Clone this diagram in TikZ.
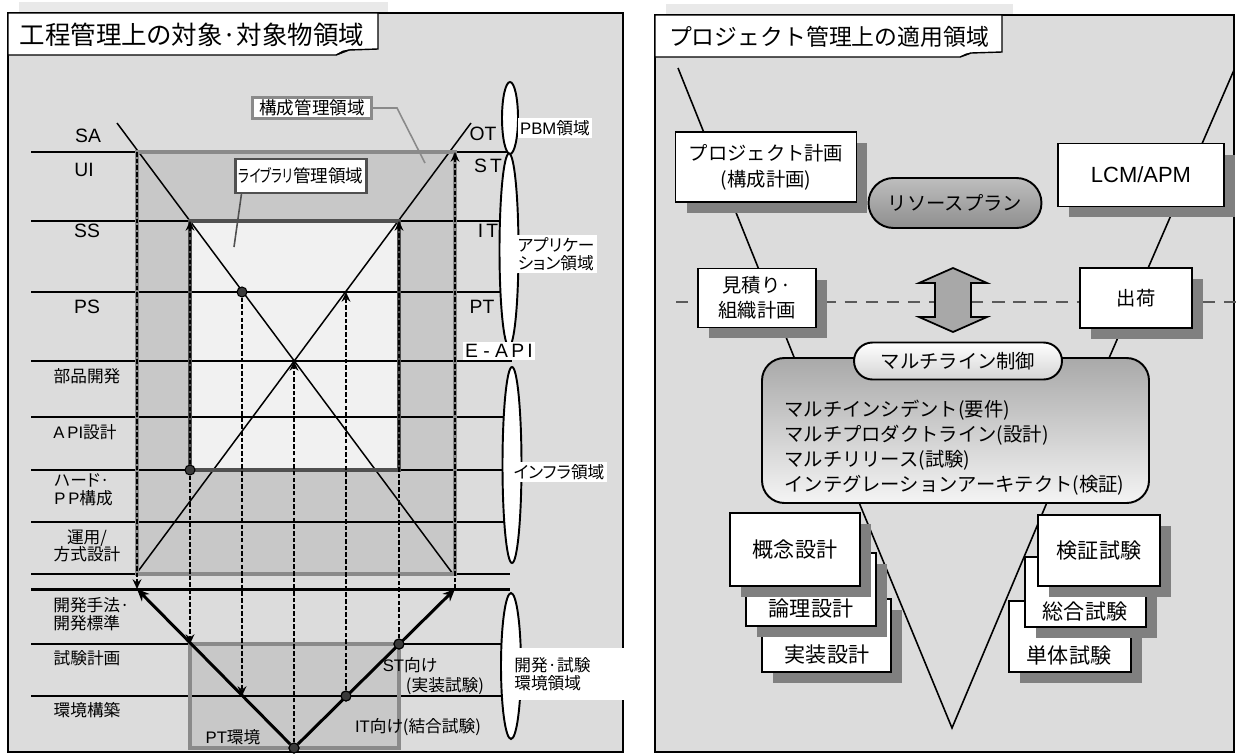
\documentclass[tikz,border=0pt]{standalone}
\usepackage{fontspec}
\usepackage{graphicx}
\setmainfont{Noto Sans CJK JP}
\newfontfamily\jpp{Noto Sans CJK JP}[RawFeature=+palt]
\newfontfamily\lat{Liberation Sans}
\usetikzlibrary{arrows.meta,shadows,calc,shapes.geometric}
\definecolor{panelbg}{HTML}{DCDCDC}
\definecolor{stripc}{HTML}{E9E9E9}
\definecolor{cfgfill}{HTML}{C8C8C8}
\definecolor{libfill}{HTML}{F1F1F1}
\definecolor{cfgedge}{HTML}{8A8A8A}
\definecolor{libedge}{HTML}{505050}
\definecolor{shadowc}{HTML}{808080}
\definecolor{dotc}{HTML}{3A3A3A}
\definecolor{dashc}{HTML}{5A5A5A}
\definecolor{rptop}{HTML}{BEBEBE}
\definecolor{rpbot}{HTML}{8E8E8E}
\definecolor{bigtop}{HTML}{A9A9A9}
\definecolor{bigbot}{HTML}{F4F4F4}
\definecolor{mlbot}{HTML}{D4D4D4}
\definecolor{arrfill}{HTML}{A8A8A8}
\begin{document}
\begin{tikzpicture}[x=0.02cm,y=-0.02cm,
  lfont/.style={font=\jpp\fontsize{9.5}{10}\selectfont},
  latf/.style={font=\lat\fontsize{11}{12}\selectfont},
  rfont/.style={font=\fontsize{11}{15}\selectfont},
  sfont/.style={font=\fontsize{12}{14}\selectfont},
  thinl/.style={line width=0.85pt},
  thickl/.style={line width=1.7pt},
  dasharr/.style={line width=1.3pt, dash pattern=on 2.6pt off 1.2pt, -{Stealth[length=5.5pt,width=5pt]}},
  varr/.style={line width=1.7pt, -{Stealth[length=7pt,width=6pt]}},
  dotn/.style={circle, draw=black, fill=dotc, minimum size=0.2cm, inner sep=0pt, line width=0.6pt},
  ell/.style={ellipse, draw=black, fill=white, line width=1.1pt, inner sep=0pt},
  wlbl/.style={lfont, fill=white, inner sep=1.5pt},
  wbox/.style={draw=black, line width=1.1pt, fill=white, inner sep=0pt,
     drop shadow={shadow xshift=0.22cm, shadow yshift=-0.22cm, fill=shadowc, opacity=1}},
]
\useasboundingbox (0,0) rectangle (1238,754);

%%%%%%%%%%%%%%%% LEFT PANEL
\fill[stripc] (19,2) rectangle (388,13);
\draw[fill=panelbg, line width=0.6pt] (8,13) rectangle (623,752);
\draw[fill=white, line width=0.8pt] (8,13) -- (378,13) -- (378,49) -- (349,50) -- (336,55) -- (8,55) -- cycle;
\draw[line width=0.5pt, fill=stripc] (336,55) -- (343,51) -- (349,50) -- cycle;
\node[font=\jpp\fontsize{14.5}{16}\selectfont] (ttl) at (192,35) {工程管理上の対象·対象物領域};

% region fills
\fill[cfgfill] (137,152) rectangle (455,574);
\fill[libfill] (190,221) rectangle (399,470);
\fill[cfgfill] (190,644) rectangle (399,748);

% horizontal lines
\draw[thickl] (31,152) -- (507,152);
\draw[thinl] (31,221) -- (507,221);
\draw[thinl] (31,292) -- (507,292);
\draw[thickl] (31,361) -- (512,361);
\draw[thinl] (31,417) -- (507,417);
\draw[thinl] (31,470) -- (507,470);
\draw[thinl] (31,522) -- (507,522);
\draw[thinl] (31,574) -- (510,574);
\draw[thickl] (31,589) -- (510,589);
\draw[thinl] (31,644) -- (507,644);
\draw[thinl] (31,696) -- (507,696);

% crossing diagonals
\coordinate (sat) at (117,123);
\coordinate (sab) at (453,574);
\coordinate (ott) at (471,123);
\coordinate (otb) at (136,574);
\draw[thinl] (sat) -- (sab);
\draw[thinl] (ott) -- (otb);

% region borders
\draw[cfgedge, line width=1.8pt] (137,152) rectangle (455,574);
\draw[libedge, line width=2.3pt] (190,221) rectangle (399,470);
\draw[cfgedge, line width=1.8pt] (190,644) rectangle (399,748);

% dots
\node[dotn] (d1) at (242,292) {};
\node[dotn] (d2) at (190,470) {};
\node[dotn] (d3) at (399,644) {};
\node[dotn] (d4) at (346,696) {};
\node[dotn] (d5) at (294,748) {};

% arrow end points
\coordinate (c137t) at (137,152);
\coordinate (c137b) at (137,589);
\coordinate (c455b) at (455,589);
\coordinate (c455t) at (455,152);
\coordinate (c190t) at (190,221);
\coordinate (c190b) at (190,644);
\coordinate (c242b) at (242,696);
\coordinate (c294t) at (294,361);
\coordinate (c346t) at (346,292);
\coordinate (c399t) at (399,221);

% dashed arrows
\draw[dasharr] (c137t) -- (c137b);
\draw[dasharr] (c455b) -- (c455t);
\draw[dasharr] (d2) -- (c190b);
\draw[dasharr] (d2) -- (c190t);
\draw[dasharr] (d1) -- (c242b);
\draw[dasharr] (d5) -- (c294t);
\draw[dasharr] (d4) -- (c346t);
\draw[dasharr] (d3) -- (c399t);

% thick V
\draw[varr] (d5) -- (c137b);
\draw[varr] (d5) -- (c455b);
\node[dotn] at (d3) {};
\node[dotn] at (d4) {};
\node[dotn] at (d5) {};

% callouts
\node[draw=cfgedge, line width=1.2pt, fill=white, minimum width=2.38cm, minimum height=0.42cm, inner sep=0pt, font=\jpp\fontsize{10}{11}\selectfont] (cfg) at (312,108) {構成管理領域};
\coordinate (cfgk) at (397,108);
\coordinate (cfgt) at (425,163);
\draw[cfgedge, line width=0.9pt] (cfg.east) -- (cfgk) -- (cfgt);
\node[draw=libedge, line width=1.2pt, fill=white, minimum width=2.62cm, minimum height=0.68cm, inner sep=0pt, font=\jpp\fontsize{10}{11}\selectfont] (lib) at (301,176) {\scalebox{0.72}[1]{ライブラリ}管理領域};
\coordinate (libs) at ($(lib.south west)+(7,0)$);
\coordinate (libt) at (234,247);
\draw[libedge, line width=0.9pt] (libs) -- (libt);

% left labels
\node[latf] (SA) at (88,136) {SA};
\node[latf] (UI) at (84,170) {UI};
\node[latf] (SS) at (87,231) {SS};
\node[latf] (PS) at (87,307) {PS};
\node[lfont] (buhin) at (87,376) {部品開発};
\node[lfont] (apis) at (85,432) {{\lat A\,PI}設計};
\node[lfont, anchor=west, align=left, inner sep=0pt] (hard) at (54,490) {ハード·\\{\lat P\,P}構成};
\node[lfont, align=center, inner sep=0pt] (unyo) at (87,546) {運用/\\方式設計};
\node[lfont, anchor=west, align=left, inner sep=0pt] (kaihatsu) at (53,614) {開発手法·\\開発標準};
\node[lfont] (shiken) at (87,658) {試験計画};
\node[lfont] (kankyo) at (87,710) {環境構築};

% right labels
\node[latf] (OT) at (483,134) {OT};
\node[latf] (ST) at (488,166) {S\,T};
\node[latf] (IT) at (488,231) {I\,T};
\node[latf] (PT) at (482,307) {PT};

% ellipses
\node[ell, minimum width=0.32cm, minimum height=1.44cm] (pbme) at (510,118) {};
\node[ell, minimum width=0.38cm, minimum height=3.86cm] (appe) at (509,250) {};
\node[ell, minimum width=0.38cm, minimum height=3.92cm] (infe) at (512,465) {};
\node[ell, minimum width=0.40cm, minimum height=2.92cm] (deve) at (511,666) {};
\node[latf, fill=white, inner sep=1.2pt] (eapi) at (499,351) {E - A\,P\,I};

\node[wlbl] (pbml) at (555,128) {{\lat PBM}領域};
\node[wlbl, align=left] (appl) at (556,254) {アプリケー\\ション領域};
\node[wlbl] (infl) at (559,472) {インフラ領域};
\node[lfont, fill=white, anchor=west, inner xsep=0.08cm, inner ysep=0pt, minimum height=1.04cm, text width=2.14cm, align=left] (devl) at (510,674) {開発·試験\\環境領域};

% bottom labels
\node[lfont] (stm) at (410,665) {{\lat ST}向け};
\node[lfont] (stj) at (445,686) {(実装試験)};
\node[lfont] (itm) at (418,727) {{\lat IT}向け(結合試験)};
\node[lfont] (pte) at (233,737) {{\lat PT}環境};

%%%%%%%%%%%%%%%% RIGHT PANEL
\fill[stripc] (666,4) rectangle (1013,15);
\draw[fill=panelbg, line width=0.6pt] (655,15) rectangle (1234,752);
\draw[fill=white, line width=0.8pt] (655,15) -- (1002,15) -- (1002,52) -- (971,53) -- (960,57) -- (655,57) -- cycle;
\draw[line width=0.5pt, fill=stripc] (960,57) -- (966,54) -- (971,53) -- cycle;
\node[font=\fontsize{13}{15}\selectfont] (ttl2) at (829,37) {プロジェクト管理上の適用領域};

% V lines
\coordinate (vl1) at (678,68);
\coordinate (vl2) at (800,372);
\coordinate (vr1) at (1234,70);
\coordinate (vr2) at (1103,372);
\coordinate (vbl) at (858,500);
\coordinate (vb) at (952,728);
\coordinate (vbr) at (1048,500);
\draw[line width=0.9pt] (vl1) -- (vl2);
\draw[line width=0.9pt] (vr1) -- (vr2);
\draw[line width=0.9pt] (vbl) -- (vb) -- (vbr);

% dashed separator
\coordinate (dsl) at (676,302);
\coordinate (dsr) at (1238,302);
\draw[dashc, line width=1.4pt, dash pattern=on 7pt off 5pt] (dsl) -- (dsr);

% boxes
\node[wbox, rfont, align=center, minimum width=3.62cm, minimum height=1.4cm] (pj) at (766,167) {プロジェクト計画\\(構成計画)};
\node[wbox, font=\lat\fontsize{12.5}{14}\selectfont, minimum width=3.32cm, minimum height=1.26cm] (lcm) at (1141,175) {LCM/APM};
\node[wbox, font=\fontsize{11}{14}\selectfont, align=center, minimum width=2.36cm, minimum height=1.18cm] (mitsu) at (757,298) {見積り·\\組織計画};
\node[wbox, rfont, minimum width=2.24cm, minimum height=1.2cm] (ship) at (1136,298) {出荷};

\node[draw=black, line width=1.1pt, rounded corners=0.5cm, top color=rptop, bottom color=rpbot, minimum width=3.46cm, minimum height=1cm, inner sep=0pt, rfont] (rp) at (955,203) {リソースプラン};

% double arrow
\draw[line width=1pt, fill=arrfill] (953,268) -- (987,283) -- (971,283) -- (971,317) -- (987,317) -- (953,332) -- (919,317) -- (935,317) -- (935,283) -- (919,283) -- cycle;

% multiline control
\draw[line width=1.1pt, rounded corners=0.45cm, top color=bigtop, bottom color=bigbot] (762,358) rectangle (1149,503);
\node[draw=black, line width=1.1pt, rounded corners=0.37cm, top color=white, bottom color=mlbot, minimum width=4.16cm, minimum height=0.74cm, inner sep=0pt, rfont] (ml) at (958,361) {マルチライン制御};
\node[font=\fontsize{11}{14.2}\selectfont, anchor=west, align=left, inner sep=0pt] (mltxt) at (784,448) {マルチインシデント(要件)\\マルチプロダクトライン(設計)\\マルチリリース(試験)\\インテグレーションアーキテクト(検証)};

% left stack
\node[wbox, minimum width=2.58cm, minimum height=1.46cm] (jisso) at (826.5,635.5) {};
\node[sfont] (jissot) at (827,655) {実装設計};
\node[wbox, minimum width=2.6cm, minimum height=1.46cm] (ronri) at (811,589.5) {};
\node[sfont] (ronrit) at (811,609) {論理設計};
\node[wbox, sfont, minimum width=2.6cm, minimum height=1.46cm] (gainen) at (795,549.5) {概念設計};

% right stack
\node[wbox, minimum width=2.44cm, minimum height=1.42cm] (tantai) at (1070,636.5) {};
\node[sfont] (tantait) at (1069,655) {単体試験};
\node[wbox, minimum width=2.42cm, minimum height=1.4cm] (sogo) at (1085.5,592) {};
\node[sfont] (sogot) at (1085,611) {総合試験};
\node[wbox, sfont, minimum width=2.44cm, minimum height=1.42cm] (kensho) at (1099,550.5) {検証試験};

\end{tikzpicture}
\end{document}
